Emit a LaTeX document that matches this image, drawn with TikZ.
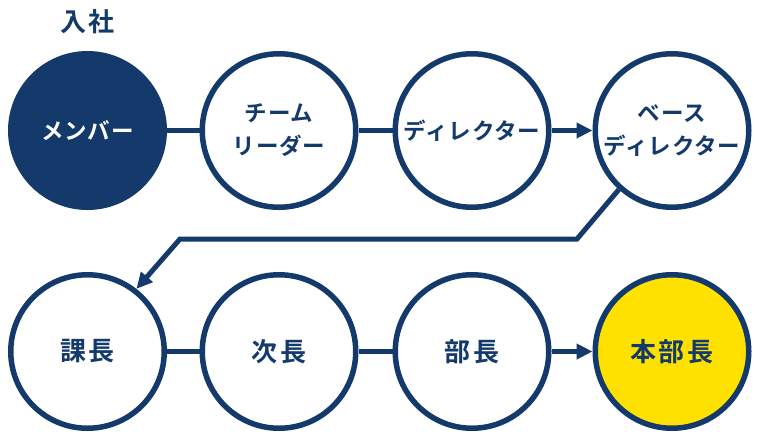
\documentclass[tikz,border=0pt]{standalone}
\usepackage{fontspec}
\setmainfont{Noto Sans CJK JP}[BoldFont={Noto Sans CJK JP Bold}]
\usetikzlibrary{arrows.meta}
\definecolor{navy}{HTML}{133A6B}
\definecolor{gold}{HTML}{FFE100}
\begin{document}
\begin{tikzpicture}[x=1pt,y=-1pt,
  stage/.style={circle,draw=navy,line width=5.5pt,minimum size=153.5pt,inner sep=0pt,
    fill=white,text=navy,align=center,font=\bfseries\fontsize{22.5}{33}\selectfont\addfontfeature{LetterSpace=4}},
  kanji/.style={font=\bfseries\fontsize{26}{30}\selectfont\addfontfeature{LetterSpace=10}},
  link/.style={draw=navy,line width=5pt},
  arr/.style={link,-{Triangle[length=16pt,width=15pt]}}]
\useasboundingbox (0,0) rectangle (760,440);
% row 1
\node[stage,fill=navy,text=white] (c1) at (87.5,130.5) {メンバー};
\node[stage] (c2) at (279,130.5) {チーム\\リーダー};
\node[stage] (c3) at (472,130.5) {ディレクター};
\node[stage] (c4) at (672,130.5) {ベース\\ディレクター};
% row 2
\node[stage,kanji] (c5) at (87.5,351.5) {課長};
\node[stage,kanji] (c6) at (279,351.5) {次長};
\node[stage,kanji] (c7) at (472,351.5) {部長};
\node[stage,kanji,fill=gold] (c8) at (672,351.5) {本部長};
% label
\node[text=navy,kanji] (join) at (87.5,22) {入社};
% connectors
\draw[link] (c1) -- (c2);
\draw[link] (c2) -- (c3);
\draw[arr] (c3) -- (c4);
\draw[link] (c5) -- (c6);
\draw[link] (c6) -- (c7);
\draw[arr] (c7) -- (c8);
\coordinate (k1) at (577,239);
\coordinate (k2) at (180,239);
\draw[arr,line join=miter] (c4.228) -- (k1) -- (k2) -- (c5.52);
\end{tikzpicture}
\end{document}
